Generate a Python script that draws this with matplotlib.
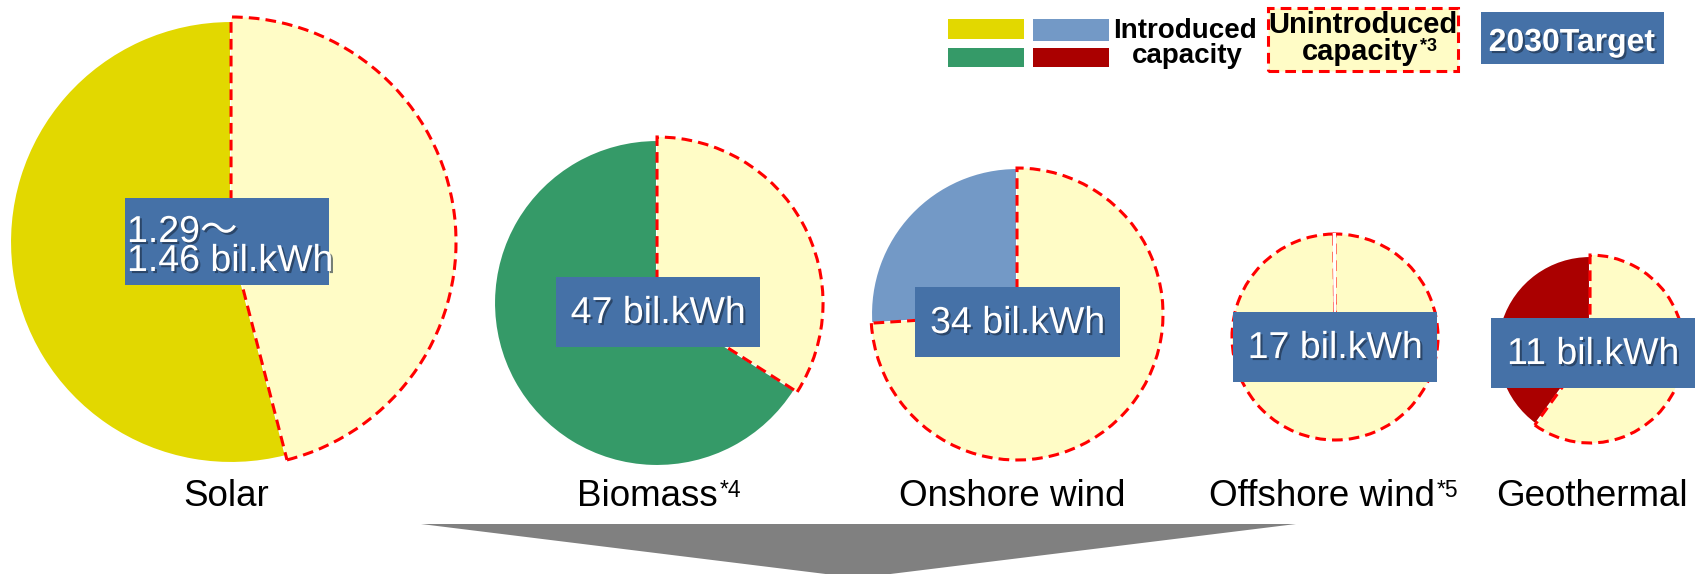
import matplotlib
matplotlib.use('Agg')
import matplotlib.pyplot as plt
from matplotlib.patches import Rectangle, Polygon
import matplotlib.patheffects as pe

plt.rcParams['font.family'] = ['Liberation Sans', 'Noto Sans CJK JP', 'DejaVu Sans']

W, H = 1702, 574

# data
sources = ['Solar', 'Biomass', 'Onshore wind', 'Offshore wind', 'Geothermal']
notes = ['', '*4', '', '*5', '']
introduced = [54, 66, 26, 0.2, 40]   # share of the 2030 target already introduced (%)
targets = [['1.29〜', '1.46 bil.kWh'], ['47 bil.kWh'], ['34 bil.kWh'],
           ['17 bil.kWh'], ['11 bil.kWh']]
intro_colors = ['#e2d800', '#359a68', '#7399c6', '#7399c6', '#aa0000']
unintro_color = '#fffcc6'
box_color = '#4571a7'

# layout, pixels measured from the top left corner
centers = [(231, 242), (657, 303), (1017, 314), (1335, 337), (1590, 349)]
radii = [221, 163, 146, 103, 93]
explode_px = [6, 5, 4, 0, 4]
extra_r = [4, 3, 0, 0, 1]
boxes = [(125, 198, 204, 87), (556, 277, 204, 70), (915, 287, 205, 70),
         (1233, 312, 204, 70), (1491, 318, 204, 70)]
label_x = [226, 647, 1012, 1322, 1592]


def Y(y):
    return H - y


fig = plt.figure(figsize=(W / 100, H / 100), dpi=100)
ax = fig.add_axes([0, 0, 1, 1])

shadow = [pe.SimplePatchShadow(offset=(1.5, -1.5), shadow_rgbFace='#1a2a40', alpha=0.6),
          pe.Normal()]

for i in range(len(sources)):
    cx, cy = centers[i]
    r = radii[i]
    vals = [introduced[i], 100 - introduced[i]]
    wedges, _ = ax.pie(vals, center=(cx, Y(cy)), radius=r, startangle=90,
                       counterclock=True, colors=[intro_colors[i], unintro_color],
                       explode=[0, explode_px[i] / r], frame=False)
    wedges[0].set_edgecolor('white')
    wedges[0].set_linewidth(1.5)
    if introduced[i] < 1:
        # only a hairline is left: let it sit over the dashed edges
        wedges[0].set_zorder(2)
    wedges[1].set_radius(r + extra_r[i])
    wedges[1].set_edgecolor('#ff0000')
    wedges[1].set_linewidth(2.2)
    wedges[1].set_linestyle((0, (3.5, 2)))

    bx, by, bw, bh = boxes[i]
    ax.add_patch(Rectangle((bx, Y(by + bh)), bw, bh, facecolor=box_color,
                           edgecolor='none', zorder=3))
    if len(targets[i]) == 2:
        ax.text(bx + 2, Y(by + 44), targets[i][0], color='white', fontsize=27,
                ha='left', va='baseline', zorder=4, path_effects=shadow)
        ax.text(bx + 2, Y(by + 73), targets[i][1], color='white', fontsize=27,
                ha='left', va='baseline', zorder=4, path_effects=shadow)
    else:
        ax.text(bx + bw / 2, Y(by + 46), targets[i][0], color='white', fontsize=27,
                ha='center', va='baseline', zorder=4, path_effects=shadow)

    t = ax.text(label_x[i], Y(506), sources[i], fontsize=26.5, ha='center',
                va='baseline', color='black')
    if notes[i]:
        ax.annotate(notes[i], xy=(1, 1), xycoords=t, xytext=(1.5, 0),
                    textcoords='offset points', ha='left', va='top', fontsize=16.5)

# legend
ax.add_patch(Rectangle((948, Y(39)), 76, 20, facecolor='#e2d800', edgecolor='none'))
ax.add_patch(Rectangle((1033, Y(41)), 76, 22, facecolor='#7399c6', edgecolor='none'))
ax.add_patch(Rectangle((948, Y(67)), 76, 19, facecolor='#359a68', edgecolor='none'))
ax.add_patch(Rectangle((1033, Y(67)), 76, 19, facecolor='#aa0000', edgecolor='none'))
ax.text(1185, Y(38), 'Introduced', fontsize=20, fontweight='bold', ha='center', va='baseline')
ax.text(1187, Y(63), 'capacity', fontsize=20, fontweight='bold', ha='center', va='baseline')

ax.add_patch(Rectangle((1268, Y(71)), 190, 63, facecolor=unintro_color, edgecolor='#ff0000',
                       linewidth=2.2, linestyle=(0, (3.5, 2))))
ax.text(1363, Y(33), 'Unintroduced', fontsize=21, fontweight='bold', ha='center', va='baseline')
tc = ax.text(1360, Y(60), 'capacity', fontsize=21, fontweight='bold', ha='center', va='baseline')
ax.annotate('*3', xy=(1, 1), xycoords=tc, xytext=(1, 0), textcoords='offset points',
            ha='left', va='top', fontsize=13, fontweight='bold')

ax.add_patch(Rectangle((1481, Y(64)), 183, 52, facecolor=box_color, edgecolor='none'))
ax.text(1572, Y(51), '2030Target', fontsize=23, fontweight='bold', color='white',
        ha='center', va='baseline', path_effects=shadow)

# big grey arrow at the bottom
ax.add_patch(Polygon([(421, Y(524)), (1296, Y(524)), (858, Y(578))], closed=True,
                     facecolor='#808080', edgecolor='none'))

ax.set_xlim(0, W)
ax.set_ylim(0, H)
ax.set_aspect('equal')
ax.axis('off')

fig.savefig('out.png', dpi=100)
